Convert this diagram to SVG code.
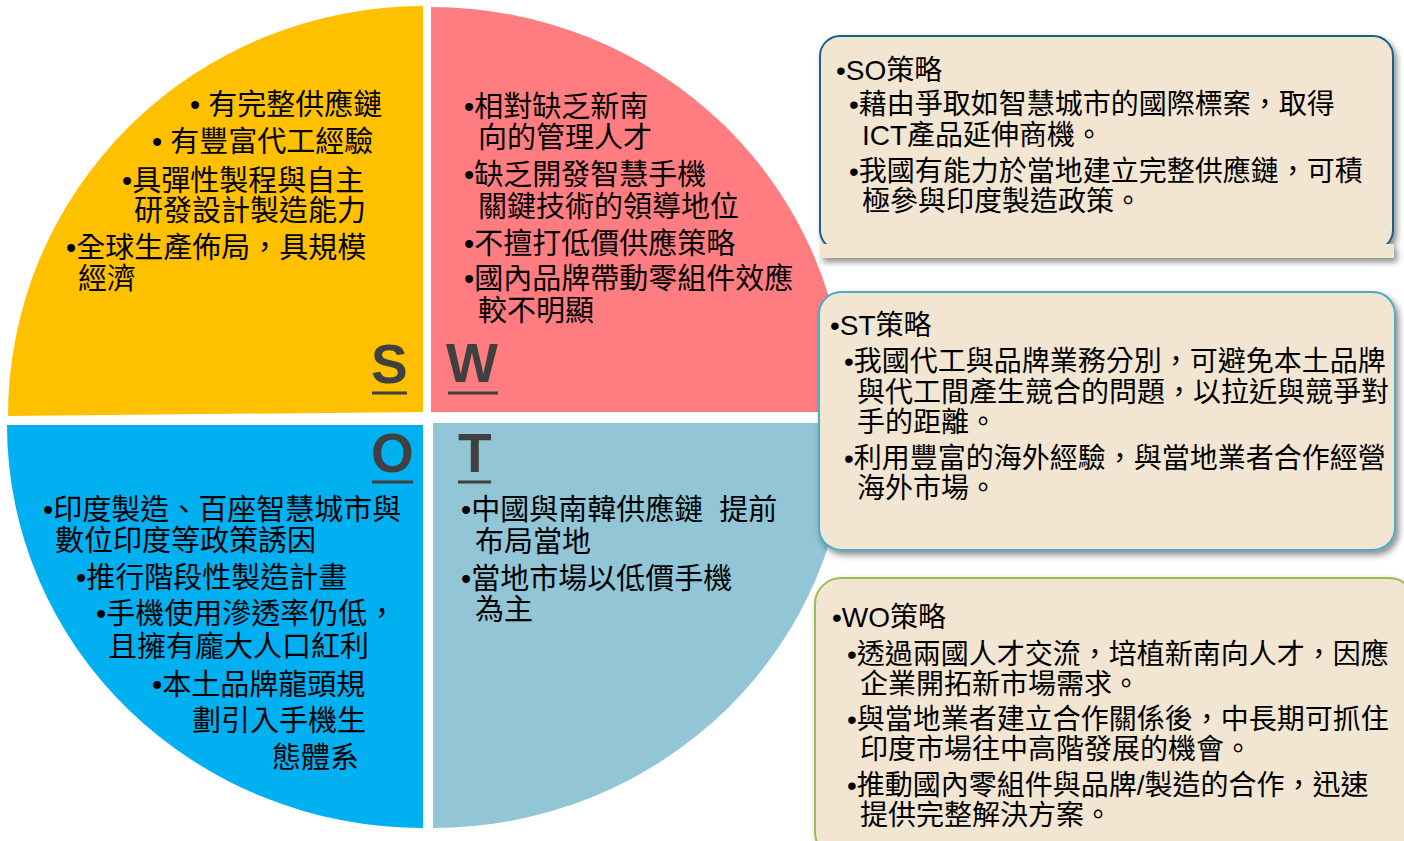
<svg xmlns="http://www.w3.org/2000/svg" width="1404" height="841" viewBox="0 0 1404 841">
<defs>
<style>
.q{font-family:"Liberation Sans","Noto Sans CJK TC",sans-serif;font-size:29px;fill:#000;}
.b{font-family:"Liberation Sans","Noto Sans CJK TC",sans-serif;font-size:28px;fill:#000;}
.L{font-family:"Liberation Sans",Arial,sans-serif;font-size:55px;font-weight:bold;fill:#404040;}
.ul{stroke:#404040;stroke-width:3;}
.box{fill:#F2E6D3;stroke-width:2;}
</style>
<filter id="sh" x="-5%" y="-5%" width="115%" height="120%">
<feDropShadow dx="3" dy="4" stdDeviation="3" flood-color="#000" flood-opacity="0.45"/>
</filter>
</defs>
<rect width="1404" height="841" fill="#fff"/>

<g id="quad-S">
<path d="M423,412 L8,416 A415,410 0 0 1 423,6 Z" fill="#FFC000"/>
<text class="q" x="190" y="115">• 有完整供應鏈</text>
<text class="q" x="152" y="152">• 有豐富代工經驗</text>
<text class="q" x="122" y="191">•具彈性製程與自主</text>
<text class="q" x="134" y="221">研發設計製造能力</text>
<text class="q" x="66" y="258">•全球生產佈局，具規模</text>
<text class="q" x="78" y="289">經濟</text>
<text class="L" x="371" y="383">S</text>
<line class="ul" x1="372" y1="393" x2="407" y2="393"/>
</g>

<g id="quad-W">
<path d="M431,412 L431,7 A415,405 0 0 1 846,412 Z" fill="#FF7C80"/>
<text class="q" x="464" y="117">•相對缺乏新南</text>
<text class="q" x="478" y="148">向的管理人才</text>
<text class="q" x="464" y="185">•缺乏開發智慧手機</text>
<text class="q" x="478" y="217">關鍵技術的領導地位</text>
<text class="q" x="464" y="254">•不擅打低價供應策略</text>
<text class="q" x="464" y="289">•國內品牌帶動零組件效應</text>
<text class="q" x="478" y="321">較不明顯</text>
<text class="L" x="446" y="382">W</text>
<line class="ul" x1="448" y1="393" x2="498" y2="393"/>
</g>

<g id="quad-O">
<path d="M423,425 L423,828 A416,403 0 0 1 7,425 Z" fill="#00B0F0"/>
<text class="L" x="371" y="472">O</text>
<line class="ul" x1="372" y1="482" x2="413" y2="482"/>
<text class="q" x="43" y="520">•印度製造、百座智慧城市與</text>
<text class="q" x="55" y="551">數位印度等政策誘因</text>
<text class="q" x="76" y="588">•推行階段性製造計畫</text>
<text class="q" x="96" y="624">•手機使用滲透率仍低，</text>
<text class="q" x="108" y="657">且擁有龐大人口紅利</text>
<text class="q" x="152" y="695">•本土品牌龍頭規</text>
<text class="q" x="192" y="731">劃引入手機生</text>
<text class="q" x="272" y="768">態體系</text>
</g>

<g id="quad-T">
<path d="M433,423 L848,423 A415,405 0 0 1 433,828 Z" fill="#92C5D5"/>
<text class="L" x="458" y="472">T</text>
<line class="ul" x1="458" y1="482" x2="491" y2="482"/>
<text class="q" x="461" y="520" xml:space="preserve" style="white-space:pre">•中國與南韓供應鏈  提前</text>
<text class="q" x="475" y="552">布局當地</text>
<text class="q" x="461" y="589">•當地市場以低價手機</text>
<text class="q" x="475" y="620">為主</text>
</g>

<g id="box-SO">
<g filter="url(#sh)">
<rect class="box" x="820" y="36" width="573" height="214" rx="20" stroke="#1F5F8B"/>
<rect x="820" y="244" width="574" height="14" fill="#F2E6D3"/>
</g>
<text class="b" x="836" y="80">•SO策略</text>
<text class="b" x="849" y="114">•藉由爭取如智慧城市的國際標案，取得</text>
<text class="b" x="862" y="145">ICT產品延伸商機。</text>
<text class="b" x="849" y="181">•我國有能力於當地建立完整供應鏈，可積</text>
<text class="b" x="862" y="211">極參與印度製造政策。</text>
</g>

<g id="box-ST">
<rect class="box" x="819" y="292" width="576" height="258" rx="22" stroke="#4BACC6" filter="url(#sh)"/>
<text class="b" x="830" y="335">•ST策略</text>
<text class="b" x="844" y="371">•我國代工與品牌業務分別，可避免本土品牌</text>
<text class="b" x="857" y="402">與代工間產生競合的問題，以拉近與競爭對</text>
<text class="b" x="857" y="432">手的距離。</text>
<text class="b" x="844" y="468">•利用豐富的海外經驗，與當地業者合作經營</text>
<text class="b" x="857" y="498">海外市場。</text>
</g>

<g id="box-WO">
<rect class="box" x="815" y="578" width="600" height="280" rx="26" stroke="#9BBB59" filter="url(#sh)"/>
<text class="b" x="832" y="627">•WO策略</text>
<text class="b" x="847" y="664">•透過兩國人才交流，培植新南向人才，因應</text>
<text class="b" x="860" y="694">企業開拓新市場需求。</text>
<text class="b" x="847" y="729">•與當地業者建立合作關係後，中長期可抓住</text>
<text class="b" x="860" y="759">印度市場往中高階發展的機會。</text>
<text class="b" x="847" y="795">•推動國內零組件與品牌/製造的合作，迅速</text>
<text class="b" x="860" y="825">提供完整解決方案。</text>
</g>

<g id="connectors"/>
</svg>
